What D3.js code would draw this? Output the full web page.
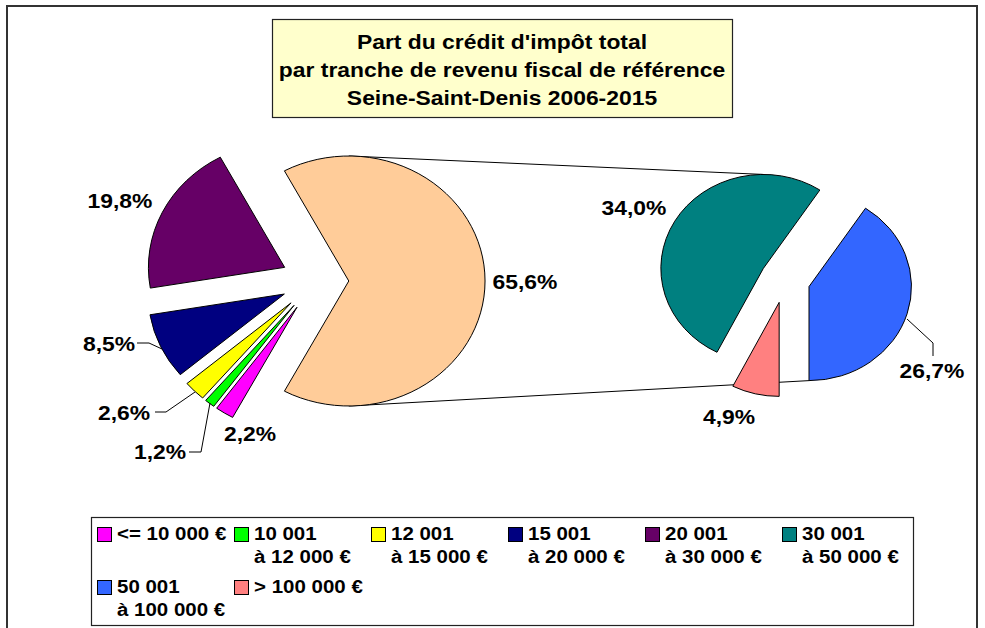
<!DOCTYPE html>
<html>
<head>
<meta charset="utf-8">
<script src="https://cdn.jsdelivr.net/npm/d3@7"></script>
<style>
  body { margin: 0; background: #fff; }
  text { font-family: "Liberation Sans", Arial, sans-serif; font-weight: bold; fill: #000; }
</style>
</head>
<body>
<div id="chart"></div>
<script>
// --- données ---
const categories = ["<= 10 000 €", "10 001|à 12 000 €", "12 001|à 15 000 €", "15 001|à 20 000 €",
  "20 001|à 30 000 €", "30 001|à 50 000 €", "50 001|à 100 000 €", "> 100 000 €"];
const mainValues = [2.2, 1.2, 2.6, 8.5, 19.8];      // camembert principal
const secondValues = [34.0, 26.7, 4.9];             // sous-camembert (= 65,6 %)
const colors = ["#FF00FF", "#00FF00", "#FFFF00", "#000080", "#660066", "#008080", "#3366FF", "#FF8080"];
const otherColor = "#FFCC99";
const titleLines = ["Part du crédit d'impôt total", "par tranche de revenu fiscal de référence", "Seine-Saint-Denis 2006-2015"];

// --- mise en page ---
const W = 985, H = 628;
const k = 1.09;                 // étirement horizontal de l'image d'origine
const main = { cx: 315, cy: 281, r: 125, explode: 31 };
const sub = { cx: 785, cy: 280, r: 94, explode: 23 };

// positions des étiquettes (centre x, ligne de base y) et traits de rappel
const labelPos = {
  0: { x: 250, y: 441 },
  1: { x: 160, y: 459, leader: [[189, 452], [201, 452], [210, 403]] },
  2: { x: 124, y: 420, leader: [[155, 412], [166, 412], [195, 392]] },
  3: { x: 109, y: 351, leader: [[137, 343], [149, 343], [162, 349]] },
  4: { x: 120, y: 208 },
  other: { x: 525, y: 289 },
  5: { x: 634, y: 215 },
  6: { x: 932, y: 378, leader: [[907, 319], [933, 343], [933, 356]] },
  7: { x: 729, y: 424 }
};

const fmt = v => d3.format(".1f")(v).replace(".", ",") + "%";

const svg = d3.select("#chart").append("svg")
  .attr("width", W).attr("height", H);

// cadre du graphique
svg.append("rect").attr("x", 7).attr("y", 6).attr("width", 970).attr("height", 640)
  .attr("fill", "#fff").attr("stroke", "#333").attr("stroke-width", 2);

// titre
svg.append("rect").attr("x", 272.5).attr("y", 19.5).attr("width", 460).attr("height", 98)
  .attr("fill", "#FFFFCC").attr("stroke", "#222").attr("stroke-width", 1.2);
titleLines.forEach((t, i) => {
  svg.append("g").attr("transform", `translate(502,${49 + i * 28}) scale(${k},1)`)
    .append("text").attr("text-anchor", "middle").style("font-size", "21px").text(t);
});

// --- calculs des secteurs ---
const otherTotal = d3.sum(secondValues);
const mainData = mainValues.map((v, i) => ({ v, i })).concat([{ v: otherTotal, i: "other" }]);
const mainTotal = d3.sum(mainData, d => d.v);
const a0 = Math.PI / 2 + Math.PI * otherTotal / mainTotal;
const mainArcs = d3.pie().sort(null).value(d => d.v).startAngle(a0).endAngle(a0 + 2 * Math.PI)(mainData);

const subData = secondValues.map((v, j) => ({ v, i: 5 + j }));
const b0 = Math.PI + 2 * Math.PI * secondValues[2] / otherTotal;
const subArcs = d3.pie().sort(null).value(d => d.v).startAngle(b0).endAngle(b0 + 2 * Math.PI)(subData);

const mid = a => (a.startAngle + a.endAngle) / 2;
const offset = (a, e) => [Math.sin(mid(a)) * e, -Math.cos(mid(a)) * e];

// traits de liaison (sous les secteurs)
const otherArc = mainArcs[mainArcs.length - 1];
const oOff = offset(otherArc, main.explode);
const tealOff = offset(subArcs[0], sub.explode);
const blueOff = offset(subArcs[1], sub.explode);
const lines = [
  [[main.cx + k * oOff[0], main.cy + oOff[1] - main.r], [sub.cx + k * tealOff[0], sub.cy + tealOff[1] - sub.r]],
  [[main.cx + k * oOff[0], main.cy + oOff[1] + main.r], [sub.cx + k * blueOff[0], sub.cy + blueOff[1] + sub.r]]
];
svg.selectAll("line.series").data(lines).join("line").attr("class", "series")
  .attr("x1", d => d[0][0]).attr("y1", d => d[0][1])
  .attr("x2", d => d[1][0]).attr("y2", d => d[1][1])
  .attr("stroke", "#000").attr("stroke-width", 1);

function drawPie(cfg, arcs) {
  const arc = d3.arc().innerRadius(0).outerRadius(cfg.r);
  const g = svg.append("g").attr("transform", `translate(${cfg.cx},${cfg.cy}) scale(${k},1)`);
  g.selectAll("path").data(arcs).join("path")
    .attr("d", arc)
    .attr("transform", d => { const o = offset(d, cfg.explode); return `translate(${o[0]},${o[1]})`; })
    .attr("fill", d => d.data.i === "other" ? otherColor : colors[d.data.i])
    .attr("stroke", "#000").attr("stroke-width", 1)
    .attr("vector-effect", "non-scaling-stroke");
}
drawPie(main, mainArcs);
drawPie(sub, subArcs);

// étiquettes de données
const allArcs = mainArcs.concat(subArcs);
allArcs.forEach(a => {
  const p = labelPos[a.data.i];
  if (p.leader) {
    svg.append("path").attr("d", d3.line()(p.leader))
      .attr("fill", "none").attr("stroke", "#000").attr("stroke-width", 1);
  }
  svg.append("g").attr("transform", `translate(${p.x},${p.y}) scale(${k},1)`)
    .append("text").attr("text-anchor", "middle").style("font-size", "21px")
    .text(fmt(a.data.v));
});

// légende
svg.append("rect").attr("x", 91.5).attr("y", 517.5).attr("width", 822).attr("height", 108)
  .attr("fill", "#fff").attr("stroke", "#222").attr("stroke-width", 1.2);
const lg = svg.append("g");
categories.forEach((c, i) => {
  const col = i % 6, row = Math.floor(i / 6);
  const x = 97 + col * 137, y = 527 + row * 53;
  lg.append("rect").attr("x", x + 0.5).attr("y", y + 0.5).attr("width", 14).attr("height", 14)
    .attr("fill", colors[i]).attr("stroke", "#000").attr("stroke-width", 1);
  c.split("|").forEach((t, j) => {
    lg.append("g").attr("transform", `translate(${x + 20},${y + 13 + j * 23}) scale(${k},1)`)
      .append("text").style("font-size", "18.8px").text(t);
  });
});
</script>
</body>
</html>
